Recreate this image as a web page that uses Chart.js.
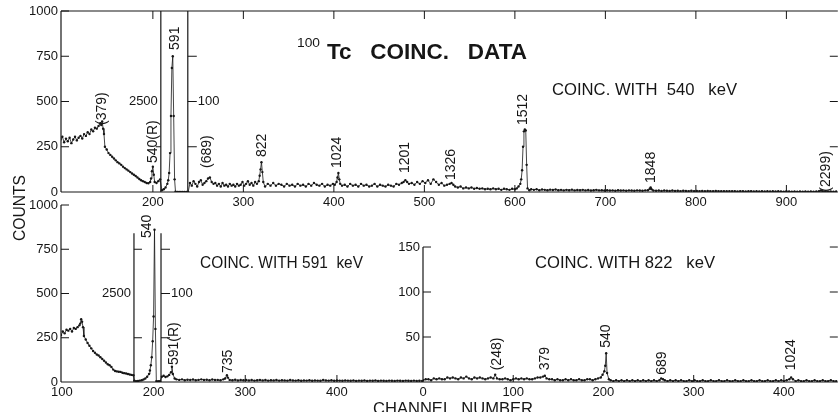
<!DOCTYPE html>
<html>
<head>
<meta charset="utf-8">
<script src="https://cdn.jsdelivr.net/npm/chart.js@4.4.1/dist/chart.umd.min.js"></script>
<style>
  html, body { margin: 0; padding: 0; background: #fff; }
  #wrap { position: relative; width: 839px; height: 412px; overflow: hidden; background: #fff; }
  #wrap canvas { position: absolute; left: 0; top: 0; }
</style>
</head>
<body>
<div id="wrap">
  <canvas id="top-panel" width="839" height="412"></canvas>
  <canvas id="left-panel" width="839" height="412"></canvas>
  <canvas id="right-panel" width="839" height="412"></canvas>
</div>
<script>
// ---- data (channel number vs counts) ----

// coincidences with 540 keV (top panel)
const topChannels = [
  98, 100, 102, 104, 106, 108, 110, 112, 114, 116,
  118, 120, 122, 124, 126, 128, 130, 132, 134, 136,
  138, 140, 142, 143, 144, 145, 146, 147, 149, 151,
  153, 155, 157, 159, 161, 163, 165, 167, 169, 171,
  173, 175, 177, 179, 181, 183, 185, 187, 189, 191,
  193, 195, 197, 198, 199, 200, 201, 202, 204, 206,
  208, 210, 212, 214, 216, 217, 218, 219, 220, 221,
  222, 223, 224, 225, 227, 229, 231, 233, 235, 237,
  239, 241, 243, 245, 247, 249, 251, 253, 255, 257,
  259, 261, 263, 265, 267, 269, 271, 273, 275, 277,
  279, 281, 283, 285, 287, 289, 291, 293, 295, 297,
  299, 301, 303, 305, 307, 309, 311, 313, 315, 317,
  318, 319, 320, 321, 322, 324, 327, 330, 333, 336,
  339, 342, 345, 348, 351, 354, 357, 360, 363, 366,
  369, 372, 375, 378, 381, 384, 387, 390, 393, 396,
  399, 401, 403, 404, 405, 406, 407, 409, 412, 415,
  418, 421, 424, 427, 430, 433, 436, 439, 442, 445,
  448, 451, 454, 457, 460, 463, 466, 469, 472, 475,
  477, 479, 481, 483, 486, 489, 492, 495, 498, 501,
  504, 507, 510, 513, 516, 519, 522, 525, 528, 530,
  532, 534, 537, 540, 543, 546, 549, 552, 555, 558,
  561, 564, 567, 570, 573, 576, 579, 582, 585, 588,
  591, 594, 597, 600, 602, 604, 606, 607, 608, 609,
  610, 611, 612, 613, 614, 616, 618, 621, 624, 627,
  630, 633, 636, 639, 642, 645, 648, 651, 654, 657,
  660, 663, 666, 669, 672, 675, 678, 681, 684, 687,
  690, 693, 696, 699, 702, 705, 708, 711, 714, 717,
  720, 723, 726, 729, 732, 735, 738, 741, 744, 747,
  749, 750, 751, 753, 756, 759, 762, 765, 768, 771,
  774, 777, 780, 783, 786, 789, 792, 795, 798, 801,
  804, 807, 810, 813, 816, 819, 822, 825, 828, 831,
  834, 837, 840, 843, 846, 849, 852, 855, 858, 861,
  864, 867, 870, 873, 876, 879, 882, 885, 888, 891,
  894, 897, 900, 903, 906, 909, 912, 915, 918, 921,
  924, 927, 930, 933, 936, 938, 940, 943, 946, 949,
  952, 955
];
const topCounts = [
  290, 305, 275, 295, 280, 300, 270, 290, 305, 285,
  300, 310, 295, 320, 310, 330, 320, 345, 335, 355,
  350, 365, 380, 370, 390, 350, 320, 250, 235, 215,
  205, 195, 185, 175, 165, 158, 150, 140, 132, 125,
  118, 110, 102, 95, 88, 80, 72, 65, 60, 55,
  50, 48, 55, 75, 115, 140, 95, 55, 50, 60,
  70, 10, 15, 25, 45, 65, 105, 215, 420, 685,
  750, 420, 70, 2, 0, 0, 0, 0, 0, 0,
  0, 50, 35, 60, 45, 30, 55, 65, 40, 50,
  60, 75, 80, 55, 45, 50, 35, 45, 30, 50,
  35, 40, 30, 45, 35, 40, 30, 45, 35, 40,
  55, 35, 45, 60, 40, 50, 35, 55, 45, 60,
  90, 125, 165, 110, 55, 30, 45, 35, 50, 35,
  45, 40, 30, 45, 35, 40, 30, 45, 35, 40,
  30, 45, 35, 50, 40, 35, 45, 30, 40, 35,
  45, 40, 55, 80, 105, 70, 45, 35, 40, 30,
  45, 35, 40, 30, 45, 35, 40, 30, 35, 45,
  30, 40, 35, 30, 40, 35, 30, 45, 40, 50,
  55, 65, 55, 45, 50, 40, 55, 45, 60, 50,
  65, 45, 70, 55, 40, 50, 35, 40, 45, 50,
  40, 30, 25, 30, 20, 25, 20, 25, 18, 22,
  18, 20, 15, 18, 15, 20, 15, 18, 12, 18,
  15, 12, 18, 15, 20, 30, 45, 70, 120, 250,
  335, 345, 340, 150, 20, 10, 15, 12, 15, 10,
  14, 12, 10, 13, 11, 14, 10, 12, 9, 12,
  10, 13, 9, 11, 10, 12, 9, 11, 8, 10,
  12, 9, 10, 8, 10, 8, 9, 7, 10, 8,
  9, 7, 9, 8, 7, 9, 8, 7, 9, 10,
  18, 25, 15, 8, 7, 8, 6, 8, 7, 6,
  8, 6, 7, 5, 7, 6, 5, 7, 5, 6,
  5, 6, 4, 6, 5, 4, 6, 5, 4, 5,
  4, 5, 4, 5, 3, 5, 4, 3, 4, 5,
  3, 4, 3, 4, 3, 4, 3, 4, 3, 4,
  3, 2, 4, 3, 2, 3, 2, 3, 2, 3,
  2, 3, 2, 3, 4, 8, 4, 3, 2, 3,
  2, 3
];

// coincidences with 591 keV (bottom left)
const leftChannels = [
  99, 101, 103, 105, 107, 109, 111, 113, 115, 117,
  119, 120, 121, 122, 123, 124, 126, 128, 130, 132,
  134, 136, 138, 140, 142, 144, 146, 148, 150, 152,
  154, 156, 158, 160, 162, 164, 166, 168, 170, 172,
  174, 176, 178, 179, 181, 183, 185, 187, 189, 191,
  193, 195, 196, 197, 198, 199, 200, 201, 202, 203,
  205, 207, 209, 211, 213, 215, 217, 219, 220, 221,
  223, 225, 228, 231, 234, 237, 240, 243, 246, 249,
  252, 255, 258, 261, 264, 267, 270, 273, 276, 278,
  280, 281, 283, 286, 289, 292, 295, 298, 301, 304,
  307, 310, 313, 316, 319, 322, 325, 328, 331, 334,
  337, 340, 343, 346, 349, 352, 355, 358, 361, 364,
  367, 370, 373, 376, 379, 382, 385, 388, 391, 394,
  397, 400, 403, 406, 409, 412, 415, 418, 421, 424,
  427, 430, 433, 436, 439, 442, 445, 448, 451, 454,
  457, 460, 463, 466, 469, 472, 475, 478, 481, 484,
  487, 490, 493
];
const leftCounts = [
  265, 285, 275, 295, 290, 300, 285, 305, 300, 310,
  320, 330, 355, 340, 310, 260, 240, 220, 205, 190,
  175, 165, 155, 150, 140, 130, 120, 110, 100, 95,
  85, 70, 62, 60, 58, 57, 52, 50, 48, 45,
  42, 40, 38, 8, 5, 6, 8, 10, 14, 20,
  30, 45, 65, 95, 140, 230, 370, 860, 300, 5,
  4, 5, 30, 35, 28, 32, 40, 55, 86, 45,
  20, 15, 12, 15, 10, 13, 11, 14, 10, 12,
  15, 11, 13, 10, 14, 11, 12, 10, 15, 20,
  38, 25, 12, 10, 13, 9, 11, 10, 12, 9,
  11, 8, 10, 12, 9, 11, 8, 10, 9, 11,
  8, 10, 9, 8, 11, 9, 8, 10, 7, 9,
  8, 10, 7, 9, 8, 7, 12, 9, 8, 10,
  7, 9, 8, 7, 9, 8, 7, 9, 6, 8,
  7, 9, 6, 8, 7, 9, 6, 8, 7, 6,
  8, 7, 6, 8, 7, 6, 8, 7, 6, 8,
  6, 7, 6
];

// coincidences with 822 keV (bottom right)
const rightChannels = [
  0, 3, 6, 9, 12, 15, 18, 21, 24, 27,
  30, 33, 36, 39, 42, 45, 48, 51, 54, 57,
  60, 63, 66, 69, 72, 75, 78, 80, 82, 85,
  88, 91, 94, 97, 100, 103, 106, 109, 112, 115,
  118, 121, 124, 127, 130, 133, 135, 137, 140, 143,
  146, 149, 152, 155, 158, 161, 164, 167, 170, 173,
  176, 179, 182, 185, 188, 191, 194, 197, 199, 201,
  202, 203, 204, 206, 208, 211, 214, 217, 220, 223,
  226, 229, 232, 235, 238, 241, 244, 247, 250, 253,
  256, 259, 262, 264, 266, 268, 271, 274, 277, 280,
  283, 286, 289, 292, 295, 298, 301, 304, 307, 310,
  313, 316, 319, 322, 325, 328, 331, 334, 337, 340,
  343, 346, 349, 352, 355, 358, 361, 364, 367, 370,
  373, 376, 379, 382, 385, 388, 391, 394, 397, 400,
  403, 406, 408, 410, 413, 416, 419, 422, 425, 428,
  431, 434, 437, 440, 443, 446, 449, 452, 455, 458
];
const rightCounts = [
  2, 3, 3, 2, 4, 3, 4, 3, 3, 5,
  4, 5, 4, 3, 5, 4, 6, 4, 3, 5,
  4, 5, 4, 3, 4, 5, 4, 8, 4, 3,
  3, 4, 3, 2, 3, 4, 3, 4, 3, 4,
  3, 3, 4, 5, 5, 6, 7, 4, 3, 3,
  2, 3, 2, 2, 3, 2, 3, 2, 2, 3,
  2, 2, 3, 3, 2, 3, 4, 5, 8, 12,
  18, 32, 10, 3, 2, 1, 2, 1, 2, 1,
  2, 1, 2, 1, 2, 1, 2, 1, 2, 1,
  2, 1, 2, 4, 3, 2, 1, 2, 1, 2,
  1, 2, 1, 1, 2, 1, 2, 1, 1, 2,
  1, 1, 2, 1, 1, 2, 1, 1, 2, 1,
  1, 2, 1, 1, 2, 1, 1, 2, 1, 1,
  2, 1, 1, 2, 1, 1, 2, 1, 2, 1,
  2, 3, 5, 3, 1, 2, 1, 1, 2, 1,
  1, 2, 1, 1, 2, 1, 1, 2, 1, 1
];

// tick values
const topXTicks = [200, 300, 400, 500, 600, 700, 800, 900];
const leftXTicks = [100, 200, 300, 400];
const rightXTicks = [0, 100, 200, 300, 400];
const countTicks = [0, 250, 500, 750, 1000];
const rightCountTicks = [50, 100, 150];

// peak labels: energy text, channel, count level where the text starts
const topPeakNames = ['(379)', '540(R)', '591', '(689)', '822', '1024', '1201', '1326', '1512', '1848', '(2299)'];
const topPeakChannels = [143.7, 200.5, 224.8, 259.6, 320.3, 404, 479, 530, 609.3, 750.5, 943.6];
const topPeakLevels = [370, 160, 785, 133, 193, 133, 105, 66, 370, 50, 2];
const leftPeakNames = ['540', '591(R)', '735'];
const leftPeakChannels = [192.8, 222.3, 281.2];
const leftPeakLevels = [813, 96, 51];
const rightPeakNames = ['(248)', '379', '540', '689', '1024'];
const rightPeakChannels = [81.8, 135.9, 203.3, 265.2, 407.7];
const rightPeakLevels = [13, 13, 38, 8, 13];

// channel ranges drawn on an expanded scale (inset frames)
const topInset = [208.8, 238.6];
const leftInset = [178.6, 208.1];

const INK = '#161616';
const FONT = '"Liberation Sans", Arial, sans-serif';

function seg(ctx, x1, y1, x2, y2) {
  ctx.beginPath();
  ctx.moveTo(x1, y1);
  ctx.lineTo(x2, y2);
  ctx.stroke();
}

// a phrase fitted between x0 and x1, baseline at y
function phrase(ctx, text, x0, x1, y, size, weight) {
  ctx.save();
  ctx.font = (weight || 'normal') + ' ' + size + 'px ' + FONT;
  const w = ctx.measureText(text).width;
  ctx.translate(x0, y);
  ctx.scale((x1 - x0) / w, 1);
  ctx.textAlign = 'left';
  ctx.textBaseline = 'alphabetic';
  ctx.fillText(text, 0, 0);
  ctx.restore();
}

function peakLabels(chart, names, channels, levels) {
  const { ctx, scales: { x, y } } = chart;
  ctx.save();
  ctx.font = '14px ' + FONT;
  ctx.fillStyle = INK;
  names.forEach((name, i) => {
    ctx.save();
    ctx.translate(x.getPixelForValue(channels[i]), y.getPixelForValue(levels[i]));
    ctx.rotate(-Math.PI / 2);
    ctx.textAlign = 'left';
    ctx.textBaseline = 'middle';
    ctx.fillText(name, 0, 0);
    ctx.restore();
  });
  ctx.restore();
}

function smallText(ctx, text, px, py, align) {
  ctx.font = '13px ' + FONT;
  ctx.textAlign = align;
  ctx.textBaseline = 'middle';
  ctx.fillText(text, px, py);
}

function drawTopDecor(chart) {
  const { ctx, chartArea: a, scales: { x, y } } = chart;
  ctx.save();
  ctx.strokeStyle = INK;
  ctx.fillStyle = INK;
  ctx.lineWidth = 1.2;
  seg(ctx, a.left, a.top, a.left, a.bottom);
  seg(ctx, a.left, a.top, a.right, a.top);
  seg(ctx, a.left, a.bottom, a.right, a.bottom);
  ctx.lineWidth = 1;
  countTicks.slice(1).forEach(v => seg(ctx, a.left, y.getPixelForValue(v), a.left + 8, y.getPixelForValue(v)));
  [250, 500, 750].forEach(v => seg(ctx, a.right - 8, y.getPixelForValue(v), a.right, y.getPixelForValue(v)));
  topXTicks.forEach(v => {
    const px = x.getPixelForValue(v);
    seg(ctx, px, a.top, px, a.top + 8);
    seg(ctx, px, a.bottom, px, a.bottom - 7);
  });

  // expanded-scale inset
  const l = x.getPixelForValue(topInset[0]);
  const r = x.getPixelForValue(topInset[1]);
  ctx.lineWidth = 1.2;
  seg(ctx, l, a.top, l, a.bottom);
  seg(ctx, r, a.top, r, a.bottom);
  ctx.lineWidth = 1;
  seg(ctx, l - 5, y.getPixelForValue(250), l, y.getPixelForValue(250));
  [250, 500, 750].forEach(v => seg(ctx, r, y.getPixelForValue(v), r + 9, y.getPixelForValue(v)));
  smallText(ctx, '2500', l - 3, y.getPixelForValue(500), 'right');
  smallText(ctx, '100', r + 10, y.getPixelForValue(500), 'left');

  peakLabels(chart, topPeakNames, topPeakChannels, topPeakLevels);

  // title and panel caption
  phrase(ctx, '100', 297, 320, 47, 12);
  phrase(ctx, 'Tc   COINC.   DATA', 327, 527, 59, 22, 'bold');
  phrase(ctx, 'COINC. WITH  540   keV', 552, 737, 95, 17);
  ctx.restore();
}

function drawLeftDecor(chart) {
  const { ctx, chartArea: a, scales: { x, y } } = chart;
  ctx.save();
  ctx.strokeStyle = INK;
  ctx.fillStyle = INK;
  ctx.lineWidth = 1.2;
  seg(ctx, a.left, a.top, a.left, a.bottom);
  seg(ctx, a.left, a.bottom, a.right, a.bottom);
  ctx.lineWidth = 1;
  countTicks.slice(1).forEach(v => seg(ctx, a.left, y.getPixelForValue(v), a.left + 8, y.getPixelForValue(v)));
  [300, 400].forEach(v => seg(ctx, x.getPixelForValue(v), a.bottom, x.getPixelForValue(v), a.bottom - 7));

  const l = x.getPixelForValue(leftInset[0]);
  const r = x.getPixelForValue(leftInset[1]);
  const t = y.getPixelForValue(840);
  ctx.lineWidth = 1.2;
  seg(ctx, l, t, l, a.bottom);
  seg(ctx, r, t, r, a.bottom);
  ctx.lineWidth = 1;
  [250, 750].forEach(v => seg(ctx, l, y.getPixelForValue(v), l + 8, y.getPixelForValue(v)));
  [250, 500, 750].forEach(v => seg(ctx, r, y.getPixelForValue(v), r + 9, y.getPixelForValue(v)));
  smallText(ctx, '2500', l - 3, y.getPixelForValue(500), 'right');
  smallText(ctx, '100', r + 10, y.getPixelForValue(500), 'left');

  peakLabels(chart, leftPeakNames, leftPeakChannels, leftPeakLevels);

  phrase(ctx, 'COINC. WITH 591  keV', 200, 363, 268, 17);

  // axis titles
  ctx.save();
  ctx.translate(25, 241);
  ctx.rotate(-Math.PI / 2);
  phrase(ctx, 'COUNTS', 0, 66, 0, 17);
  ctx.restore();
  phrase(ctx, 'CHANNEL  NUMBER', 373, 533, 414, 17);
  ctx.restore();
}

function drawRightDecor(chart) {
  const { ctx, chartArea: a, scales: { x, y } } = chart;
  ctx.save();
  ctx.strokeStyle = INK;
  ctx.fillStyle = INK;
  ctx.lineWidth = 1.2;
  seg(ctx, a.left, y.getPixelForValue(150), a.left, a.bottom);
  seg(ctx, a.left, a.bottom, a.right, a.bottom);
  ctx.lineWidth = 1;
  rightCountTicks.forEach(v => {
    const py = y.getPixelForValue(v);
    seg(ctx, a.left, py, a.left + 8, py);
    seg(ctx, a.right - 8, py, a.right, py);
  });
  [100, 300, 400].forEach(v => seg(ctx, x.getPixelForValue(v), a.bottom, x.getPixelForValue(v), a.bottom - 7));

  peakLabels(chart, rightPeakNames, rightPeakChannels, rightPeakLevels);

  phrase(ctx, 'COINC. WITH 822   keV', 535, 715, 268, 17);
  ctx.restore();
}

function makePanel(id, p) {
  return new Chart(document.getElementById(id), {
    type: 'scatter',
    data: {
      datasets: [{
        data: p.channels.map((c, i) => ({ x: c, y: p.counts[i] })),
        showLine: true,
        borderColor: INK,
        borderWidth: 0.8,
        pointRadius: 1.2,
        pointHoverRadius: 0,
        pointBackgroundColor: INK,
        pointBorderWidth: 0,
        tension: 0
      }]
    },
    options: {
      responsive: false,
      animation: false,
      events: [],
      layout: { padding: p.padding },
      plugins: { legend: { display: false }, tooltip: { enabled: false } },
      scales: {
        x: {
          type: 'linear',
          min: p.xMin,
          max: p.xMax,
          grid: { display: false, drawTicks: false },
          border: { display: false },
          ticks: { color: INK, font: { family: FONT, size: 13 }, padding: 3, maxRotation: 0, callback: v => String(v) },
          afterBuildTicks: s => { s.ticks = p.xTicks.map(v => ({ value: v })); },
          afterFit: s => { s.height = 20; }
        },
        y: {
          min: 0,
          max: p.yMax,
          grid: { display: false, drawTicks: false },
          border: { display: false },
          ticks: { color: INK, font: { family: FONT, size: 13 }, padding: 3, callback: v => String(v) },
          afterBuildTicks: s => { s.ticks = p.yTicks.map(v => ({ value: v })); },
          afterFit: s => { s.width = p.yWidth; }
        }
      }
    },
    plugins: [{ id: 'decor-' + id, afterDraw: p.decor }]
  });
}

makePanel('top-panel', {
  channels: topChannels, counts: topCounts,
  xMin: 98.5, xMax: 956.8, yMax: 1000,
  xTicks: topXTicks, yTicks: countTicks,
  yWidth: 61,
  padding: { left: 0, right: 0, top: 11, bottom: 200 },
  decor: drawTopDecor
});

makePanel('left-panel', {
  channels: leftChannels, counts: leftCounts,
  xMin: 99, xMax: 493.9, yMax: 1000,
  xTicks: leftXTicks, yTicks: countTicks,
  yWidth: 61,
  padding: { left: 0, right: 416, top: 205, bottom: 10 },
  decor: drawLeftDecor
});

makePanel('right-panel', {
  channels: rightChannels, counts: rightCounts,
  xMin: 0, xMax: 459.7, yMax: 196.7,
  xTicks: rightXTicks, yTicks: rightCountTicks,
  yWidth: 40,
  padding: { left: 383, right: 0, top: 205, bottom: 10 },
  decor: drawRightDecor
});
</script>
</body>
</html>
